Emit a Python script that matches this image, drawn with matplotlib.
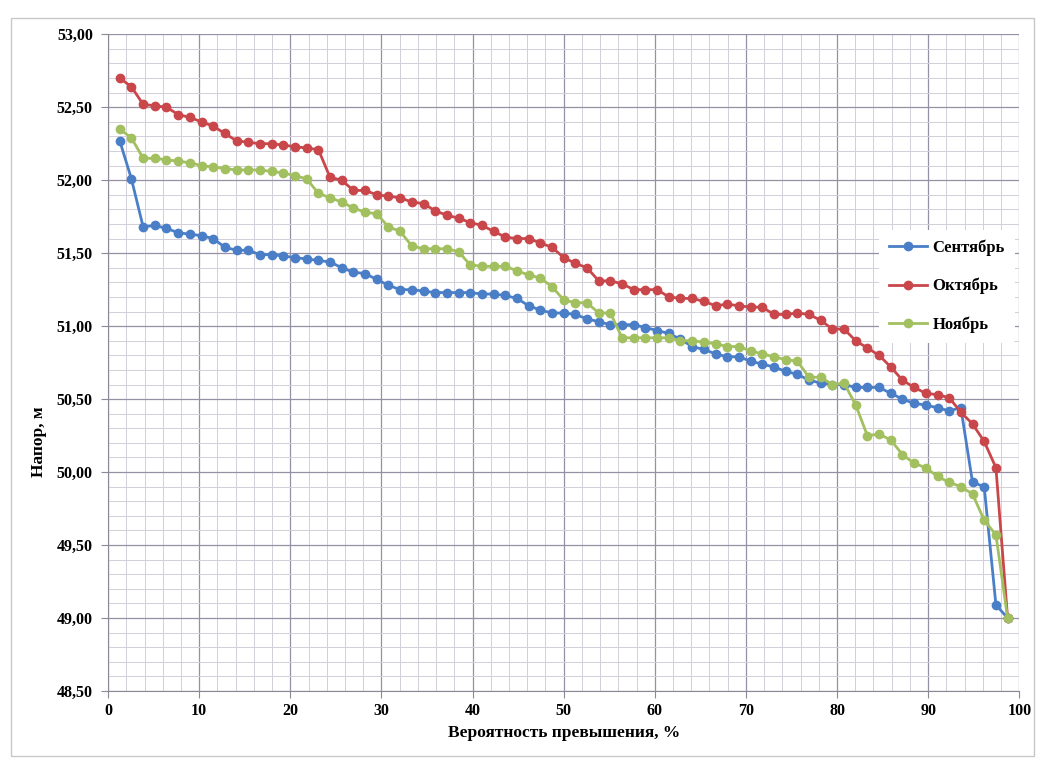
import matplotlib
matplotlib.use("Agg")
import matplotlib.pyplot as plt
from matplotlib.ticker import MultipleLocator, FuncFormatter
from matplotlib.patches import Rectangle

# exceedance probability, % (shared by all three months)
prob = [1.28, 2.56, 3.85, 5.13, 6.41, 7.69, 8.97, 10.26, 11.54, 12.82,
        14.10, 15.38, 16.67, 17.95, 19.23, 20.51, 21.79, 23.08, 24.36, 25.64,
        26.92, 28.21, 29.49, 30.77, 32.05, 33.33, 34.62, 35.90, 37.18, 38.46,
        39.74, 41.03, 42.31, 43.59, 44.87, 46.15, 47.44, 48.72, 50.00, 51.28,
        52.56, 53.85, 55.13, 56.41, 57.69, 58.97, 60.26, 61.54, 62.82, 64.10,
        65.38, 66.67, 67.95, 69.23, 70.51, 71.79, 73.08, 74.36, 75.64, 76.92,
        78.21, 79.49, 80.77, 82.05, 83.33, 84.62, 85.90, 87.18, 88.46, 89.74,
        91.03, 92.31, 93.59, 94.87, 96.15, 97.44, 98.72]

# head, m
sep = [52.27, 52.01, 51.68, 51.69, 51.67, 51.64, 51.63, 51.62, 51.60, 51.54,
       51.52, 51.52, 51.49, 51.49, 51.48, 51.47, 51.46, 51.45, 51.44, 51.40,
       51.37, 51.36, 51.32, 51.28, 51.25, 51.25, 51.24, 51.23, 51.23, 51.23,
       51.23, 51.22, 51.22, 51.21, 51.19, 51.14, 51.11, 51.09, 51.09, 51.08,
       51.05, 51.03, 51.01, 51.01, 51.01, 50.99, 50.97, 50.95, 50.91, 50.86,
       50.84, 50.81, 50.79, 50.79, 50.76, 50.74, 50.72, 50.69, 50.67, 50.63,
       50.61, 50.60, 50.60, 50.58, 50.58, 50.58, 50.54, 50.50, 50.47, 50.46,
       50.44, 50.42, 50.44, 49.93, 49.90, 49.09, 49.00]

octo = [52.70, 52.64, 52.52, 52.51, 52.50, 52.45, 52.43, 52.40, 52.37, 52.32,
        52.27, 52.26, 52.25, 52.25, 52.24, 52.23, 52.22, 52.21, 52.02, 52.00,
        51.93, 51.93, 51.90, 51.89, 51.88, 51.85, 51.84, 51.79, 51.76, 51.74,
        51.71, 51.69, 51.65, 51.61, 51.60, 51.60, 51.57, 51.54, 51.47, 51.43,
        51.40, 51.31, 51.31, 51.29, 51.25, 51.25, 51.25, 51.20, 51.19, 51.19,
        51.17, 51.14, 51.15, 51.14, 51.13, 51.13, 51.08, 51.08, 51.09, 51.08,
        51.04, 50.98, 50.98, 50.90, 50.85, 50.80, 50.72, 50.63, 50.58, 50.54,
        50.53, 50.51, 50.41, 50.33, 50.21, 50.03, 49.00]

nov = [52.35, 52.29, 52.15, 52.15, 52.14, 52.13, 52.12, 52.10, 52.09, 52.08,
       52.07, 52.07, 52.07, 52.06, 52.05, 52.03, 52.01, 51.91, 51.88, 51.85,
       51.81, 51.78, 51.77, 51.68, 51.65, 51.55, 51.53, 51.53, 51.53, 51.51,
       51.42, 51.41, 51.41, 51.41, 51.38, 51.35, 51.33, 51.27, 51.18, 51.16,
       51.16, 51.09, 51.09, 50.92, 50.92, 50.92, 50.92, 50.92, 50.90, 50.90,
       50.89, 50.88, 50.86, 50.86, 50.83, 50.81, 50.79, 50.77, 50.76, 50.65,
       50.65, 50.60, 50.61, 50.46, 50.25, 50.26, 50.22, 50.12, 50.06, 50.03,
       49.97, 49.93, 49.90, 49.85, 49.67, 49.57, 49.00]

series_names = ["Сентябрь", "Октябрь", "Ноябрь"]
series_vals = [sep, octo, nov]
series_cols = ["#4a7fc8", "#c9474a", "#a2c060"]

plt.rcParams["font.family"] = ["Liberation Serif", "DejaVu Serif"]
plt.rcParams["font.weight"] = "bold"

fig = plt.figure(figsize=(10.39, 7.61), dpi=100)
ax = fig.add_axes([0.104, 0.092, 0.877, 0.863])

# chart-area border
fig.patches.append(Rectangle((0.011, 0.006), 0.984, 0.971, transform=fig.transFigure,
                             fill=False, edgecolor="#c8c8c8", linewidth=1.0))

for name, vals, col in zip(series_names, series_vals, series_cols):
    ax.plot(prob, vals, color=col, lw=2.0, marker="o", ms=6,
            mec=col, mfc=col, label=name, zorder=3)

ax.set_xlim(0, 100)
ax.set_ylim(48.5, 53.0)
ax.xaxis.set_major_locator(MultipleLocator(10))
ax.xaxis.set_minor_locator(MultipleLocator(2))
ax.yaxis.set_major_locator(MultipleLocator(0.5))
ax.yaxis.set_minor_locator(MultipleLocator(0.1))
ax.yaxis.set_major_formatter(FuncFormatter(lambda v, p: f"{v:.2f}".replace(".", ",")))

ax.grid(which="major", color="#9690a4", lw=0.9)
ax.grid(which="minor", color="#d2cfd8", lw=0.7)
ax.set_axisbelow(True)

for s in ["top", "right"]:
    ax.spines[s].set_visible(False)
for s in ["left", "bottom"]:
    ax.spines[s].set_color("#8a8a96")
ax.tick_params(which="major", length=5, color="#8a8a96", labelsize=11.5, pad=6)
ax.tick_params(which="minor", length=0)
ax.tick_params(axis="x", pad=4)

ax.set_xlabel("Вероятность превышения, %", fontsize=12.5, fontweight="bold", labelpad=4)
fig.text(0.038, 0.42, "Напор, м", rotation=90, fontsize=12.5, fontweight="bold",
         ha="center", va="center")

leg = ax.legend(loc="upper left", bbox_to_anchor=(0.837, 0.715), frameon=True,
                fontsize=12, labelspacing=1.3, handlelength=2.3, handletextpad=0.3,
                borderpad=0.6)
leg.get_frame().set_facecolor("white")
leg.get_frame().set_edgecolor("none")
leg.get_frame().set_alpha(1.0)

fig.savefig("out.png", dpi=100)
